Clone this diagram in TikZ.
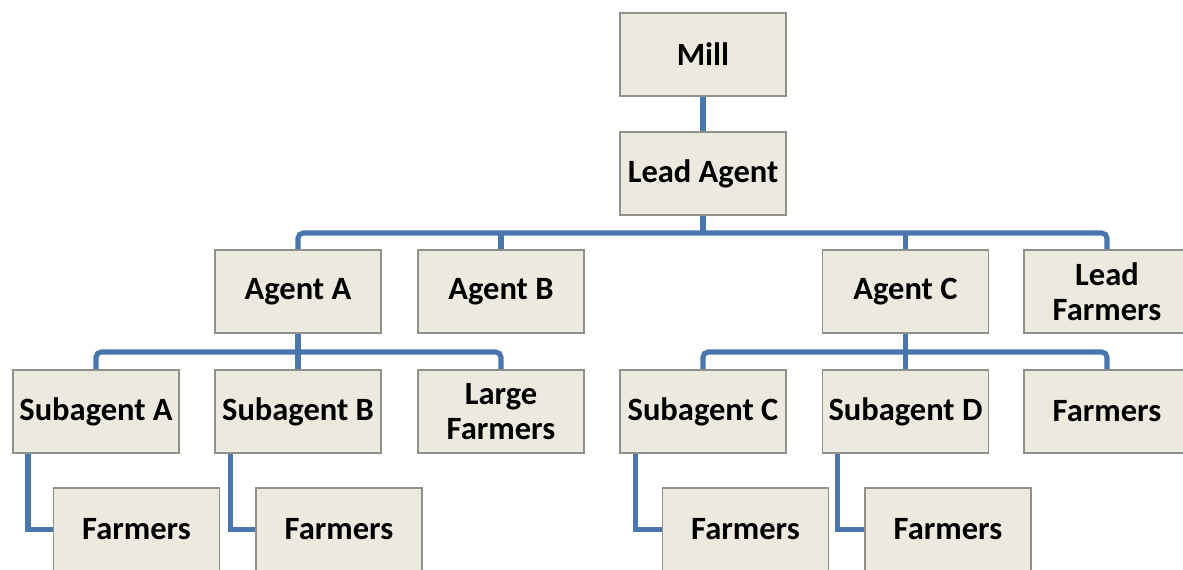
\documentclass[tikz,border=0pt]{standalone}
\usepackage{fontspec}
\setmainfont{Carlito}
\definecolor{boxfill}{RGB}{236,233,223}
\definecolor{boxline}{RGB}{145,145,140}
\definecolor{linkblue}{RGB}{74,118,174}
\usetikzlibrary{positioning, calc}

\begin{document}
\begin{tikzpicture}[x=0.02cm, y=-0.02cm,
    unit/.style={draw=boxline, line width=1.1pt, fill=boxfill, minimum width=3.32cm,
      minimum height=1.66cm, inner sep=2pt, align=center,
      font=\fontsize{18.5}{20}\selectfont\bfseries},
    link/.style={linkblue, line width=2.9pt, rounded corners=3pt}]
  \path[use as bounding box, clip] (0,0) rectangle (1183,570);

  % Top of the chain
  \node[unit] (mill) at (703,54.5) {Mill};
  \node[unit] (lead) at (703,173.5) {Lead Agent};

  % Agents
  \node[unit] (agentA) at (298,291.5) {Agent A};
  \node[unit] (agentB) at (501,291.5) {Agent B};
  \node[unit] (agentC) at (905.5,291.5) {Agent C};
  \node[unit] (leadfarm) at (1107,291.5) {Lead\\Farmers};

  % Subagents
  \node[unit] (subA) at (96,411.5) {Subagent A};
  \node[unit] (subB) at (298,411.5) {Subagent B};
  \node[unit] (large) at (501,411.5) {Large\\Farmers};
  \node[unit] (subC) at (703,411.5) {Subagent C};
  \node[unit] (subD) at (905.5,411.5) {Subagent D};
  \node[unit] (farmR) at (1107,411.5) {Farmers};

  % Farmers under subagents
  \node[unit] (farmA) at (136.5,529.5) {Farmers};
  \node[unit] (farmB) at (339,529.5) {Farmers};
  \node[unit] (farmC) at (745.5,529.5) {Farmers};
  \node[unit] (farmD) at (948,529.5) {Farmers};

  % Bus points
  \coordinate (busTop) at (703,233);
  \coordinate (busA) at (298,352);
  \coordinate (busC) at (905.5,352);

  % Connectors
  \draw[link] (mill) -- (lead);
  \draw[link] (agentA.north) |- (busTop) -| (leadfarm.north);
  \draw[link] (lead.south) -- (busTop);
  \foreach \n in {agentB, agentC}
    \draw[link] (\n.north) -- (\n.north |- busTop);

  \draw[link] (subA.north) |- (busA) -| (large.north);
  \draw[link] (agentA.south) -- (busA) -- (subB.north);
  \draw[link] (subC.north) |- (busC) -| (farmR.north);
  \draw[link] (agentC.south) -- (busC) -- (subD.north);

  \foreach \s/\f in {subA/farmA, subB/farmB, subC/farmC, subD/farmD}
    \draw[link, rounded corners=0pt] ([xshift=0.32cm]\s.south west) |- (\f.west);
\end{tikzpicture}
\end{document}
